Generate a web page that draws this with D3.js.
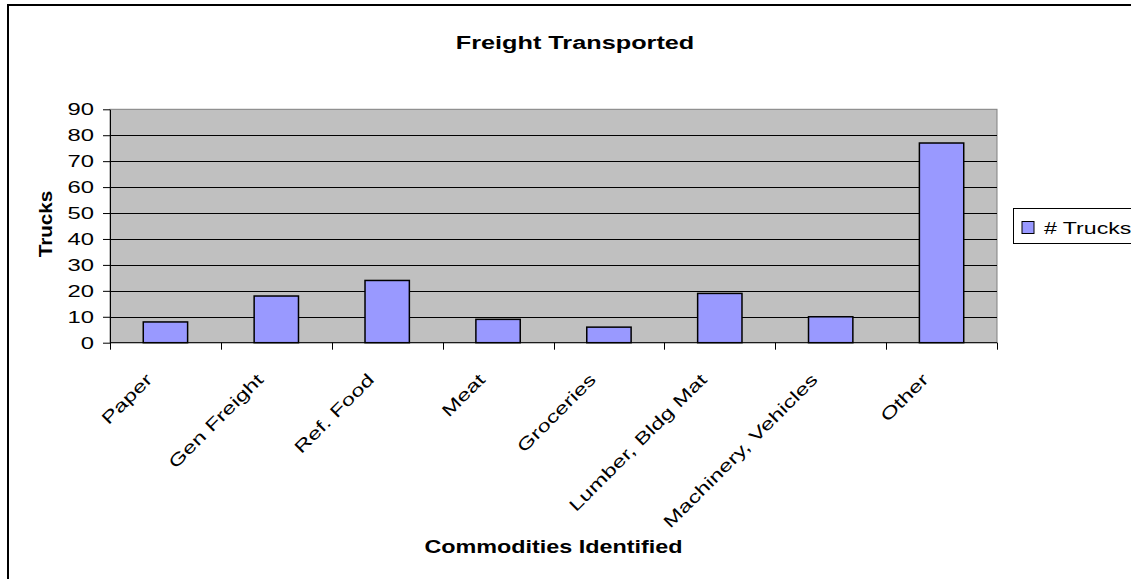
<!DOCTYPE html>
<html>
<head>
<meta charset="utf-8">
<script src="https://cdn.jsdelivr.net/npm/d3@7/dist/d3.min.js"></script>
<style>
  html, body { margin: 0; padding: 0; background: #fff; }
  svg { display: block; font-family: "Liberation Sans", Arial, sans-serif; }
</style>
</head>
<body>
<svg id="chart" width="1131" height="579"></svg>
<script>
// Freight transported, by commodity
const categories = ["Paper", "Gen Freight", "Ref. Food", "Meat", "Groceries",
                    "Lumber, Bldg Mat", "Machinery, Vehicles", "Other"];
const trucks = [8, 18, 24, 9, 6, 19, 10, 77];
const yTicks = [0, 10, 20, 30, 40, 50, 60, 70, 80, 90];
const seriesName = "# Trucks";

const svg = d3.select("#chart");
const plot = { left: 110, right: 997, top: 109.3, bottom: 342.7 };
const wide = 1.4; // horizontal stretch of the chart's lettering

// outer chart frame
svg.append("rect")
  .attr("x", 8).attr("y", 5).attr("width", 1140).attr("height", 600)
  .attr("fill", "#fff").attr("stroke", "#000").attr("stroke-width", 2);

const x = d3.scaleBand().domain(categories)
  .range([plot.left, plot.right]).paddingInner(0).paddingOuter(0);
const y = d3.scaleLinear().domain([0, 90]).range([plot.bottom, plot.top]);

// plot background
svg.append("rect")
  .attr("x", plot.left).attr("y", plot.top)
  .attr("width", plot.right - plot.left).attr("height", plot.bottom - plot.top)
  .attr("fill", "#c0c0c0").attr("stroke", "#808080").attr("stroke-width", 1);

// horizontal gridlines
svg.append("g").selectAll("line")
  .data(yTicks.filter(v => v > 0 && v < 90))
  .join("line")
  .attr("x1", plot.left).attr("x2", plot.right)
  .attr("y1", d => Math.round(y(d)) + 0.5).attr("y2", d => Math.round(y(d)) + 0.5)
  .attr("stroke", "#000").attr("stroke-width", 1);

// bars: gap width 150% of bar width
const barW = x.bandwidth() / 2.5;
svg.append("g").selectAll("rect")
  .data(categories.map((c, i) => ({ c, v: trucks[i] })))
  .join("rect")
  .attr("x", d => x(d.c) + (x.bandwidth() - barW) / 2)
  .attr("y", d => y(d.v))
  .attr("width", barW)
  .attr("height", d => y(0) - y(d.v))
  .attr("fill", "#9999ff").attr("stroke", "#000").attr("stroke-width", 1.5);

// y axis
const yAxis = svg.append("g")
  .attr("transform", `translate(${plot.left},0)`)
  .call(d3.axisLeft(y).tickValues(yTicks).tickSize(7).tickSizeOuter(0));
yAxis.select(".domain").attr("stroke", "#000");
yAxis.selectAll(".tick line").attr("stroke", "#000");
yAxis.selectAll(".tick text")
  .attr("x", 0)
  .attr("transform", `translate(-16,0) scale(${wide},1)`)
  .attr("font-size", 17).attr("font-family", "Liberation Sans, Arial, sans-serif")
  .attr("fill", "#000");

// x axis with ticks between categories
const xAxisG = svg.append("g")
  .attr("transform", `translate(0,${plot.bottom})`);
xAxisG.append("line")
  .attr("x1", plot.left).attr("x2", plot.right).attr("y1", 0).attr("y2", 0)
  .attr("stroke", "#000");
const boundaries = categories.map(c => x(c)).concat([x(categories[categories.length - 1]) + x.bandwidth()]);
xAxisG.selectAll("line.tk").data(boundaries).join("line")
  .attr("class", "tk")
  .attr("x1", d => Math.round(d) + 0.5).attr("x2", d => Math.round(d) + 0.5)
  .attr("y1", 0).attr("y2", 7).attr("stroke", "#000");
xAxisG.selectAll("text").data(categories).join("text")
  .attr("transform", d => `translate(${x(d) + x.bandwidth() / 2 - 12},${38}) rotate(-45) scale(${wide},1)`)
  .attr("text-anchor", "end")
  .attr("font-size", 17).attr("fill", "#000")
  .text(d => d);

// titles
svg.append("text")
  .attr("transform", `translate(575,49) scale(1.33,1)`)
  .attr("text-anchor", "middle").attr("font-size", 19).attr("font-weight", "bold")
  .text("Freight Transported");
svg.append("text")
  .attr("transform", `translate(${(plot.left + plot.right) / 2},553) scale(1.23,1)`)
  .attr("text-anchor", "middle").attr("font-size", 19).attr("font-weight", "bold")
  .text("Commodities Identified");
svg.append("text")
  .attr("transform", `translate(52,${(plot.top + plot.bottom) / 2 - 2}) rotate(-90) scale(1.09,1)`)
  .attr("text-anchor", "middle").attr("font-size", 19).attr("font-weight", "bold")
  .text("Trucks");

// legend
const legend = svg.append("g").attr("transform", "translate(1013.5,208.5)");
legend.append("rect").attr("width", 140).attr("height", 35)
  .attr("fill", "#fff").attr("stroke", "#000").attr("stroke-width", 1);
legend.append("rect").attr("x", 8.5).attr("y", 13).attr("width", 12).attr("height", 12)
  .attr("fill", "#9999ff").attr("stroke", "#000").attr("stroke-width", 1);
legend.append("text").attr("transform", `translate(30.5,25.5) scale(1.36,1)`)
  .attr("font-size", 17).attr("fill", "#000").text(seriesName);
</script>
</body>
</html>
